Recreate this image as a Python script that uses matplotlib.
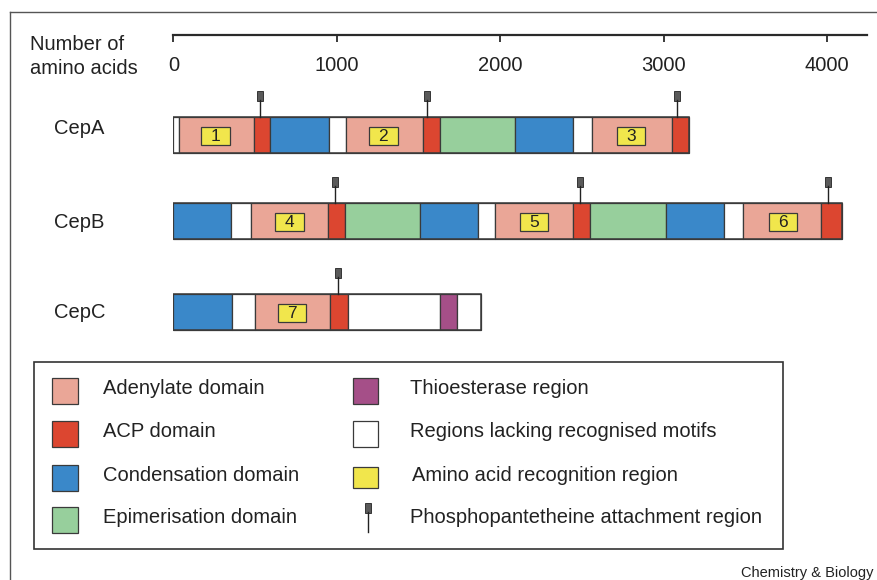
import matplotlib.pyplot as plt
from matplotlib.patches import Rectangle

plt.rcParams['font.family'] = ['Liberation Sans', 'DejaVu Sans']

W, H = 878, 580

# domain colours
colours = {
    'A': '#eaa697',  # adenylate
    'R': '#dc4630',  # ACP
    'C': '#3a88c9',  # condensation
    'E': '#97cf9c',  # epimerisation
    'T': '#a54f88',  # thioesterase
    'W': '#ffffff',  # no recognised motif
}
yellow = '#f1e64c'
edge = '#3a3a3a'

proteins = ['CepA', 'CepB', 'CepC']

# domain boundaries (amino acids) and the domain type between each pair
cepA_bounds = [0, 33, 490, 593, 953, 1056, 1525, 1630, 2091, 2444, 2560, 3053, 3156]
cepA_types = ['W', 'A', 'R', 'C', 'W', 'A', 'R', 'E', 'C', 'W', 'A', 'R']
cepB_bounds = [0, 354, 472, 946, 1050, 1509, 1861, 1970, 2448, 2551, 3016, 3371, 3488, 3965, 4090]
cepB_types = ['C', 'W', 'A', 'R', 'E', 'C', 'W', 'A', 'R', 'E', 'C', 'W', 'A', 'R']
cepC_bounds = [0, 360, 496, 959, 1066, 1632, 1737, 1880]
cepC_types = ['C', 'W', 'A', 'R', 'W', 'T', 'W']

# phosphopantetheine attachment sites
cepA_pins = [532, 1552, 3083]
cepB_pins = [988, 2489, 4004]
cepC_pins = [1007]

# amino acid recognition regions (start, end) and their numbers
cepA_recog = [(171, 345), (1196, 1372), (2715, 2888)]
cepB_recog = [(622, 799), (2122, 2293), (3643, 3816)]
cepC_recog = [(638, 814)]
recog_labels = ['1', '2', '3', '4', '5', '6', '7']

ruler_ticks = [0, 1000, 2000, 3000, 4000]
ruler_max = 4245

legend_left = ['Adenylate domain', 'ACP domain', 'Condensation domain', 'Epimerisation domain']
legend_left_keys = ['A', 'R', 'C', 'E']
legend_right = ['Thioesterase region', 'Regions lacking recognised motifs',
                'Amino acid recognition region', 'Phosphopantetheine attachment region']

all_bounds = [cepA_bounds, cepB_bounds, cepC_bounds]
all_types = [cepA_types, cepB_types, cepC_types]
all_pins = [cepA_pins, cepB_pins, cepC_pins]
all_recog = [cepA_recog, cepB_recog, cepC_recog]

fs = 14.5
txt = '#222222'

fig = plt.figure(figsize=(W / 100, H / 100), dpi=100)

# overlay in pixel coordinates for frame, labels and legend
ov = fig.add_axes([0, 0, 1, 1])
ov.set_xlim(0, W)
ov.set_ylim(H, 0)
ov.axis('off')

x0 = 173.5
x1 = 867
# ruler: bottom spine of a thin axes
rax = fig.add_axes([x0 / W, 1 - 35 / H, (x1 - x0) / W, 1 / H])
rax.set_xlim(0, ruler_max)
rax.set_yticks([])
for s in ['top', 'left', 'right']:
    rax.spines[s].set_visible(False)
rax.spines['bottom'].set_linewidth(1.6)
rax.spines['bottom'].set_color('#2a2a2a')
rax.set_xticks(ruler_ticks)
rax.tick_params(axis='x', direction='out', length=5, width=1.3, color='#2a2a2a',
                pad=10, labelsize=fs, labelcolor=txt)
rax.patch.set_visible(False)

# bars axes, amino acids on x, pixels on y
ax = fig.add_axes([x0 / W, 0, (x1 - x0) / W, 1])
ax.set_xlim(0, ruler_max)
ax.set_ylim(H, 0)
ax.axis('off')

row_y = [135, 221, 311.5]
label_y = [129, 222, 312]
bar_h = 36
px = ruler_max / (x1 - x0)  # amino acids per pixel

k = 0
for i, name in enumerate(proteins):
    yc = row_y[i]
    top = yc - bar_h / 2
    b = all_bounds[i]
    for j, t in enumerate(all_types[i]):
        ax.add_patch(Rectangle((b[j], top), b[j + 1] - b[j], bar_h,
                               facecolor=colours[t], edgecolor=edge, linewidth=0.9))
    ax.add_patch(Rectangle((b[0], top), b[-1] - b[0], bar_h,
                           facecolor='none', edgecolor=edge, linewidth=1.1))
    for (s, e) in all_recog[i]:
        ax.add_patch(Rectangle((s, yc - 8), e - s, 18, facecolor=yellow,
                               edgecolor=edge, linewidth=0.9))
        ax.text((s + e) / 2, yc + 1.5, recog_labels[k], ha='center', va='center',
                fontsize=12.5, color=txt)
        k += 1
    for p in all_pins[i]:
        ax.plot([p, p], [top, top - 17], color=txt, linewidth=1.0)
        ax.add_patch(Rectangle((p - 3 * px, top - 26), 6 * px, 10,
                               facecolor='#5a5a5a', edgecolor=txt, linewidth=0.6))
    ov.text(54, label_y[i], name, ha='left', va='center', fontsize=fs, color=txt)

ov.text(30, 44, 'Number of', ha='left', va='center', fontsize=fs, color=txt)
ov.text(30, 69, 'amino acids', ha='left', va='center', fontsize=fs, color=txt)

# outer frame (top and left edges)
ov.plot([10.5, W], [11.5, 11.5], color='#555555', linewidth=1.0)
ov.plot([10.5, 10.5], [11.5, H], color='#555555', linewidth=1.0)

# legend box
ov.add_patch(Rectangle((34, 362), 749, 187, facecolor='white', edgecolor='#333333',
                       linewidth=1.2))
leg_rows = [391, 433.5, 477.5, 519.5]
for j, lab in enumerate(legend_left):
    ov.add_patch(Rectangle((52, leg_rows[j] - 13), 26, 26,
                           facecolor=colours[legend_left_keys[j]], edgecolor=edge, linewidth=0.9))
    ov.text(103, leg_rows[j] - 2, lab, ha='left', va='center', fontsize=fs, color=txt)

ov.add_patch(Rectangle((353, leg_rows[0] - 13), 25, 26, facecolor=colours['T'],
                       edgecolor=edge, linewidth=0.9))
ov.add_patch(Rectangle((353, leg_rows[1] - 13), 25, 26, facecolor=colours['W'],
                       edgecolor=edge, linewidth=0.9))
ov.add_patch(Rectangle((353, leg_rows[2] - 11), 25, 21, facecolor=yellow,
                       edgecolor=edge, linewidth=0.9))
ov.plot([368, 368], [512, 532], color=txt, linewidth=1.0)
ov.add_patch(Rectangle((365, 503), 6, 10, facecolor='#5a5a5a', edgecolor=txt,
                       linewidth=0.6))
for j, lab in enumerate(legend_right):
    ov.text(410 if j != 2 else 412, leg_rows[j] - 2, lab, ha='left', va='center',
            fontsize=fs, color=txt)

ov.text(874, 573, 'Chemistry & Biology', ha='right', va='center', fontsize=10.5,
        color=txt)

fig.savefig('out.png', dpi=100)
